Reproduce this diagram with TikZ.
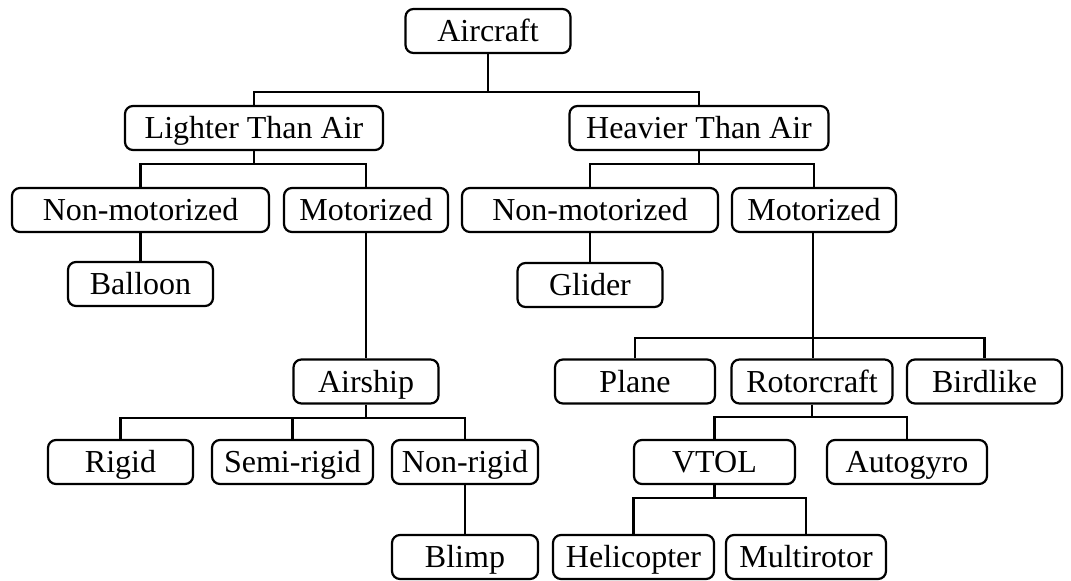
\documentclass[tikz,border=0pt]{standalone}
\usepackage{fontspec}
\setmainfont{Liberation Serif}
\usepackage{tikz}

\begin{document}
\begin{tikzpicture}[x=1pt,y=-1pt,line width=2.2pt,
  box/.style={draw,rounded corners=8pt,minimum height=44pt,inner sep=2pt,
    text height=28pt,text depth=7pt,font=\fontsize{32}{36}\selectfont}]
\useasboundingbox (0,0) rectangle (1071,581);
% Root
\node[box,minimum width=165pt] (air) at (488,31) {Aircraft};
% Second row
\node[box,minimum width=258pt] (lta) at (254,128) {Lighter Than Air};
\node[box,minimum width=259pt] (hta) at (699,128) {Heavier Than Air};
% Third row
\node[box,minimum width=257pt] (lnm) at (140.5,210) {Non-motorized};
\node[box,minimum width=164pt] (lmo) at (366,210) {Motorized};
\node[box,minimum width=256pt] (hnm) at (590,210) {Non-motorized};
\node[box,minimum width=164pt] (hmo) at (814,210) {Motorized};
% Fourth row
\node[box,minimum width=145pt] (balloon) at (140.5,284) {Balloon};
\node[box,minimum width=145pt] (glider) at (590,285) {Glider};
% Fifth row
\node[box,minimum width=145pt] (airship) at (366,381.5) {Airship};
\node[box,minimum width=160pt] (plane) at (635,381.5) {Plane};
\node[box,minimum width=161pt] (rotor) at (812,381.5) {Rotorcraft};
\node[box,minimum width=155pt] (bird) at (984.5,381.5) {Birdlike};
% Sixth row
\node[box,minimum width=145pt] (rigid) at (120.5,462) {Rigid};
\node[box,minimum width=161pt] (semi) at (292.5,462) {Semi-rigid};
\node[box,minimum width=146pt] (nonrigid) at (465,462) {Non-rigid};
\node[box,minimum width=161pt] (vtol) at (714.5,462) {VTOL};
\node[box,minimum width=160pt] (gyro) at (907,462) {Autogyro};
% Bottom row
\node[box,minimum width=146pt] (blimp) at (465,557) {Blimp};
\node[box,minimum width=161pt] (heli) at (633.5,557) {Helicopter};
\node[box,minimum width=160pt] (multi) at (806,557) {Multirotor};
% Bus points
\coordinate (airbus) at (488,92);
\coordinate (ltabus) at (254,164);
\coordinate (htabus) at (699,164);
\coordinate (hmobus) at (813,338);
\coordinate (shipbus) at (366,418);
\coordinate (rotorbus) at (812,417);
\coordinate (vtolbus) at (714.5,498);
% Connectors
\draw (air) -- (airbus);
\draw (lta) |- (airbus) -| (hta);
\draw (lta) -- (ltabus);
\draw (lnm) |- (ltabus) -| (lmo);
\draw (hta) -- (htabus);
\draw (hnm) |- (htabus) -| (hmo);
\draw (lnm) -- (balloon);
\draw (hnm) -- (glider);
\draw (lmo) -- (airship);
\draw (hmo.south -| hmobus) -- (hmobus) -- (rotor.north -| hmobus);
\draw (plane) |- (hmobus) -| (bird);
\draw (airship) -- (shipbus);
\draw (rigid) |- (shipbus) -| (nonrigid);
\draw (semi) |- (shipbus);
\draw (nonrigid) -- (blimp);
\draw (rotor) -- (rotorbus);
\draw (vtol) |- (rotorbus) -| (gyro);
\draw (vtol) -- (vtolbus);
\draw (heli) |- (vtolbus) -| (multi);
\end{tikzpicture}
\end{document}
